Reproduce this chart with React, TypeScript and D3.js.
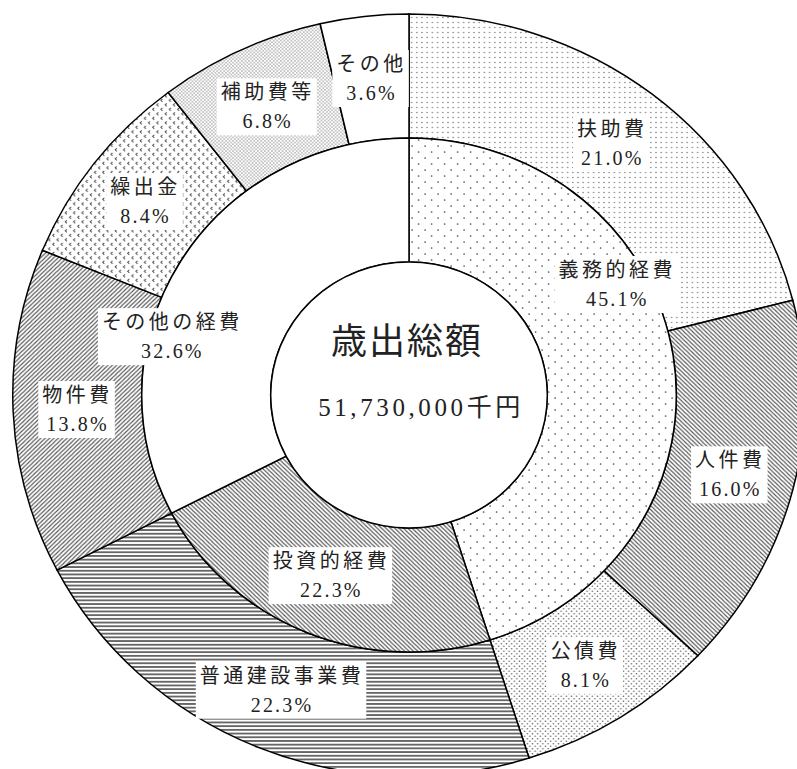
import React, { useEffect, useRef } from "react";
import * as d3 from "d3";

// ---- data ----
const innerCategories = ["義務的経費", "投資的経費", "その他の経費"];
const innerValues = [45.1, 22.3, 32.6];
const innerPatterns = ["dotsSparse", "hatchBack", "none"];

const outerCategories = ["扶助費", "人件費", "公債費", "普通建設事業費", "物件費", "繰出金", "補助費等", "その他"];
const outerValues = [21.0, 16.0, 8.1, 22.3, 13.8, 8.4, 6.8, 3.6];
const outerPatterns = ["dotsFine", "hatchBack", "dotsDense", "horiz", "hatchFwd", "chevron", "checker", "none"];

const centerTitle = "歳出総額";
const centerTotal = "51,730,000千円";

// label placement overrides (degrees from top, radius) for inner ring labels
const innerLabelAngle: (number | null)[] = [61, null, 284.5];
const innerLabelRadius: (number | null)[] = [229, null, 235];

const W = 797;
const H = 769;
const CX = 409;
const CY = 395;
const SX = 1.04;
const R_OUT = 381;
const R_MID = 257;
const R_IN = 133;
const FONT = "'Liberation Serif', 'Noto Sans CJK JP', serif";

export default function App() {
  const ref = useRef<SVGSVGElement | null>(null);

  useEffect(() => {
    const svg = d3.select(ref.current);
    svg.selectAll("*").remove();

    const defs = svg.append("defs");
    const mk = (id: string, w: number, h: number) =>
      defs.append("pattern").attr("id", id).attr("patternUnits", "userSpaceOnUse").attr("width", w).attr("height", h);

    // sparse fine dots (扶助費)
    let p = mk("dotsFine", 5, 5);
    p.append("rect").attr("width", 5).attr("height", 5).attr("fill", "#fff");
    p.append("circle").attr("cx", 2.5).attr("cy", 2.5).attr("r", 0.65).attr("fill", "#666");

    // sparse staggered dots (義務的経費)
    p = mk("dotsSparse", 12.5, 12);
    p.append("rect").attr("width", 12.5).attr("height", 12).attr("fill", "#fff");
    p.append("circle").attr("cx", 3).attr("cy", 3).attr("r", 0.85).attr("fill", "#555");
    p.append("circle").attr("cx", 9.25).attr("cy", 9).attr("r", 0.85).attr("fill", "#555");

    // dense dots (公債費)
    p = mk("dotsDense", 5, 5);
    p.append("rect").attr("width", 5).attr("height", 5).attr("fill", "#fff");
    p.append("circle").attr("cx", 1.25).attr("cy", 1.25).attr("r", 0.75).attr("fill", "#666");
    p.append("circle").attr("cx", 3.75).attr("cy", 3.75).attr("r", 0.75).attr("fill", "#666");

    // fine checker (補助費等)
    p = mk("checker", 3.4, 3.4);
    p.append("rect").attr("width", 3.4).attr("height", 3.4).attr("fill", "#fff");
    p.append("circle").attr("cx", 0.85).attr("cy", 0.85).attr("r", 0.7).attr("fill", "#777");
    p.append("circle").attr("cx", 2.55).attr("cy", 2.55).attr("r", 0.7).attr("fill", "#777");

    // back hatch "\"
    p = mk("hatchBack", 4.2, 4.2);
    p.append("rect").attr("width", 4.2).attr("height", 4.2).attr("fill", "#fff");
    p.append("path").attr("d", "M-1,-1 L5.2,5.2 M-1,3.2 L1,5.2 M3.2,-1 L5.2,1").attr("stroke", "#555").attr("stroke-width", 1.1);

    // forward hatch "/"
    p = mk("hatchFwd", 4.2, 4.2);
    p.append("rect").attr("width", 4.2).attr("height", 4.2).attr("fill", "#fff");
    p.append("path").attr("d", "M-1,5.2 L5.2,-1 M-1,1 L1,-1 M3.2,5.2 L5.2,3.2").attr("stroke", "#555").attr("stroke-width", 1.1);

    // horizontal lines
    p = mk("horiz", 4, 3.7);
    p.append("rect").attr("width", 4).attr("height", 3.7).attr("fill", "#fff");
    p.append("line").attr("x1", 0).attr("x2", 4).attr("y1", 1.85).attr("y2", 1.85).attr("stroke", "#333").attr("stroke-width", 1.4);

    // chevrons (繰出金)
    p = mk("chevron", 8, 9);
    p.append("rect").attr("width", 8).attr("height", 9).attr("fill", "#fff");
    p.append("path").attr("d", "M3,0.8 L1.5,2.3 L3,3.8 M7,5.3 L5.5,6.8 L7,8.3").attr("stroke", "#555").attr("stroke-width", 1).attr("fill", "none");

    const fillFor = (k: string) => (k === "none" ? "#fff" : `url(#${k})`);

    const pie = d3.pie<number>().sort(null).value((d) => d);
    const innerArcs = pie(innerValues);
    const outerArcs = pie(outerValues);

    const g = svg.append("g").attr("transform", `translate(${CX},${CY}) scale(${SX},1)`);
    const arcOuter = d3.arc<d3.PieArcDatum<number>>().innerRadius(R_MID).outerRadius(R_OUT);
    const arcInner = d3.arc<d3.PieArcDatum<number>>().innerRadius(R_IN).outerRadius(R_MID);

    g.selectAll("path.outer")
      .data(outerArcs)
      .join("path")
      .attr("class", "outer")
      .attr("d", arcOuter as any)
      .attr("fill", (_d, i) => fillFor(outerPatterns[i]))
      .attr("stroke", "#000")
      .attr("stroke-width", 1.5)
      .attr("vector-effect", "non-scaling-stroke");

    g.selectAll("path.inner")
      .data(innerArcs)
      .join("path")
      .attr("class", "inner")
      .attr("d", arcInner as any)
      .attr("fill", (_d, i) => fillFor(innerPatterns[i]))
      .attr("stroke", "#000")
      .attr("stroke-width", 1.5)
      .attr("vector-effect", "non-scaling-stroke");

    g.append("circle")
      .attr("r", R_IN)
      .attr("fill", "#fff")
      .attr("stroke", "#000")
      .attr("stroke-width", 1.5)
      .attr("vector-effect", "non-scaling-stroke");

    // labels
    const labels = svg.append("g");
    const place = (angle: number, r: number) => [CX + SX * r * Math.sin(angle), CY - r * Math.cos(angle)];

    const addLabel = (name: string, value: number, x: number, y: number) => {
      const lg = labels.append("g");
      const t = lg
        .append("text")
        .attr("font-family", FONT)
        .attr("font-size", 20)
        .attr("fill", "#222")
        .attr("text-anchor", "middle");
      t.append("tspan").attr("x", x).attr("y", y - 7).attr("letter-spacing", 3.5).text(name);
      t.append("tspan").attr("x", x).attr("y", y + 22).attr("letter-spacing", 2.2).text(value.toFixed(1) + "%");
      const bb = (t.node() as SVGTextElement).getBBox();
      lg.insert("rect", "text")
        .attr("x", bb.x - 4)
        .attr("y", bb.y - 3)
        .attr("width", bb.width + 6)
        .attr("height", bb.height + 6)
        .attr("fill", "#fff");
    };

    outerArcs.forEach((a, i) => {
      const mid = (a.startAngle + a.endAngle) / 2;
      const [x, y] = place(mid, (R_MID + R_OUT) / 2);
      addLabel(outerCategories[i], outerValues[i], x, y);
    });
    innerArcs.forEach((a, i) => {
      const mid = innerLabelAngle[i] != null ? ((innerLabelAngle[i] as number) * Math.PI) / 180 : (a.startAngle + a.endAngle) / 2;
      const r = innerLabelRadius[i] != null ? (innerLabelRadius[i] as number) : (R_IN + R_MID) / 2;
      const [x, y] = place(mid, r);
      addLabel(innerCategories[i], innerValues[i], x, y);
    });

    // center
    svg
      .append("text")
      .attr("x", CX - 2)
      .attr("y", CY - 41)
      .attr("text-anchor", "middle")
      .attr("font-family", FONT)
      .attr("font-size", 36)
      .attr("letter-spacing", 2)
      .attr("fill", "#222")
      .text(centerTitle);
    svg
      .append("text")
      .attr("x", CX + 12)
      .attr("y", CY + 21)
      .attr("text-anchor", "middle")
      .attr("font-family", FONT)
      .attr("font-size", 25)
      .attr("letter-spacing", 3.6)
      .attr("fill", "#222")
      .text(centerTotal);
  }, []);

  return (
    <svg
      ref={ref}
      width={W}
      height={H}
      style={{ position: "absolute", left: 0, top: 0, background: "#fff" }}
    />
  );
}
